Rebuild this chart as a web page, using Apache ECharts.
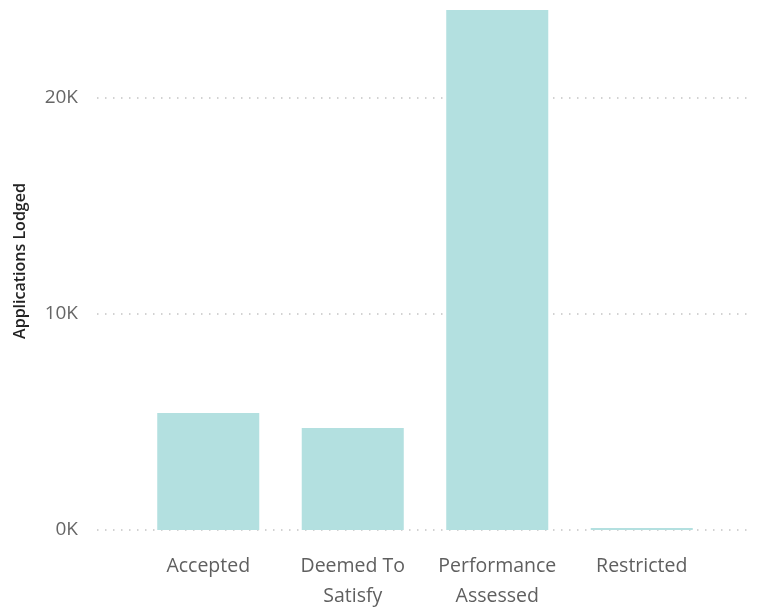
<!DOCTYPE html>
<html><head><meta charset="utf-8">
<script src="https://cdn.jsdelivr.net/npm/echarts@6/dist/echarts.min.js"></script>
<style>html,body{margin:0;padding:0;background:#fff;overflow:hidden;width:757px;height:613px}
#c{position:absolute;left:0;top:-120px;width:757px;height:733px}</style>
</head><body><div id="c"></div>
<script>
const categories = ['Accepted', 'Deemed To\nSatisfy', 'Performance\nAssessed', 'Restricted'];
const values = [5420, 4720, 24070, 90];
const yTicks = [0, 10000, 20000];
const yName = 'Applications Lodged';

const font = '"Segoe UI", "Open Sans", "Noto Sans", sans-serif';
const chart = echarts.init(document.getElementById('c'));
chart.setOption({
  animation: false,
  grid: [
    { left: 136, right: 43, top: 2, bottom: 83 },
    { left: 97, right: 7, top: 2, bottom: 83 }
  ],
  xAxis: [
    { type: 'category', data: categories, gridIndex: 0,
      axisLine: { show: false }, axisTick: { show: false },
      axisLabel: { color: '#5f5f5f', fontSize: 19.5, fontFamily: font, lineHeight: 30, margin: 21, interval: 0 } },
    { type: 'value', gridIndex: 1, show: false, min: 0, max: 1 }
  ],
  yAxis: [
    { type: 'value', gridIndex: 0, min: 0, max: 30000, interval: 10000,
      axisLabel: { show: false }, splitLine: { show: false },
      axisLine: { show: false }, axisTick: { show: false } },
    { type: 'value', gridIndex: 1, min: 0, max: 30000, interval: 10000,
      axisLine: { show: false }, axisTick: { show: false },
      axisLabel: { color: '#666', fontSize: 19, fontFamily: font, margin: 19,
        formatter: v => yTicks.includes(v) ? (v / 1000) + 'K' : '' },
      splitLine: { show: true, lineStyle: { color: '#c4c4c4', width: 1.5, type: [1.5, 6.5] } } }
  ],
  graphic: [{
    type: 'text', left: 11, top: 120 + 261, rotation: Math.PI / 2,
    style: { text: yName, fill: '#222', font: '600 16px ' + font, align: 'center', verticalAlign: 'middle' },
    x: 20, y: 120 + 261, left: null, top: null
  }],
  series: [{
    type: 'bar', xAxisIndex: 0, yAxisIndex: 0, data: values,
    barCategoryGap: '29.4%',
    itemStyle: { color: '#B3E0E0' },
    z: 3
  }]
});
</script></body></html>
